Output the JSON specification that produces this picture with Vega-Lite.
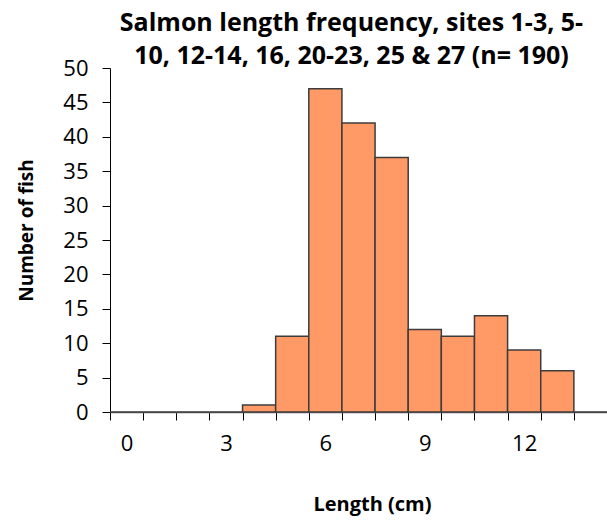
{
  "$schema": "https://vega.github.io/schema/vega-lite/v6.json",
  "width": 497,
  "height": 344,
  "autosize": {"type": "none"},
  "padding": {"left": 110, "top": 68, "right": 0, "bottom": 110},
  "background": "white",
  "title": {
    "text": ["Salmon length frequency, sites 1-3, 5-", "10, 12-14, 16, 20-23, 25 & 27 (n= 190)"],
    "font": "Open Sans",
    "fontSize": 25,
    "fontWeight": "bold",
    "lineHeight": 33,
    "color": "#000000",
    "anchor": "middle",
    "dx": -7,
    "offset": -12
  },
  "data": {
    "values": [
      {"length": 0, "count": 0},
      {"length": 1, "count": 0},
      {"length": 2, "count": 0},
      {"length": 3, "count": 0},
      {"length": 4, "count": 1},
      {"length": 5, "count": 11},
      {"length": 6, "count": 47},
      {"length": 7, "count": 42},
      {"length": 8, "count": 37},
      {"length": 9, "count": 12},
      {"length": 10, "count": 11},
      {"length": 11, "count": 14},
      {"length": 12, "count": 9},
      {"length": 13, "count": 6},
      {"length": 14, "count": 0}
    ]
  },
  "mark": {"type": "bar", "color": "#ff9a66", "stroke": "#3c3c3c", "strokeWidth": 1.5},
  "encoding": {
    "x": {
      "field": "length",
      "type": "ordinal",
      "scale": {"paddingInner": 0, "paddingOuter": 0},
      "axis": {
        "title": "Length (cm)",
        "titleFont": "Open Sans",
        "titleFontSize": 20,
        "titleFontWeight": "bold",
        "titleColor": "#000000",
        "titlePadding": 40,
        "titleX": 262,
        "labelAngle": 0,
        "labelFont": "Open Sans",
        "labelFontSize": 22,
        "labelColor": "#000000",
        "labelPadding": 13,
        "labelExpr": "datum.value % 3 === 0 ? datum.label : ''",
        "tickBand": "extent",
        "tickSize": 8,
        "tickColor": "#000000",
        "domainColor": "#666666",
        "domainWidth": 1.5,
        "grid": false
      }
    },
    "y": {
      "field": "count",
      "type": "quantitative",
      "scale": {"domain": [0, 50], "nice": false},
      "axis": {
        "title": "Number of fish",
        "titleFont": "Open Sans",
        "titleFontSize": 19,
        "titleFontWeight": "bold",
        "titleColor": "#000000",
        "titlePadding": 26,
        "titleY": 162,
        "values": [0, 5, 10, 15, 20, 25, 30, 35, 40, 45, 50],
        "labelFont": "Open Sans",
        "labelFontSize": 22,
        "labelColor": "#000000",
        "labelPadding": 14,
        "tickSize": 8,
        "tickColor": "#000000",
        "domainColor": "#000000",
        "grid": false
      }
    }
  },
  "config": {"view": {"stroke": null}}
}
